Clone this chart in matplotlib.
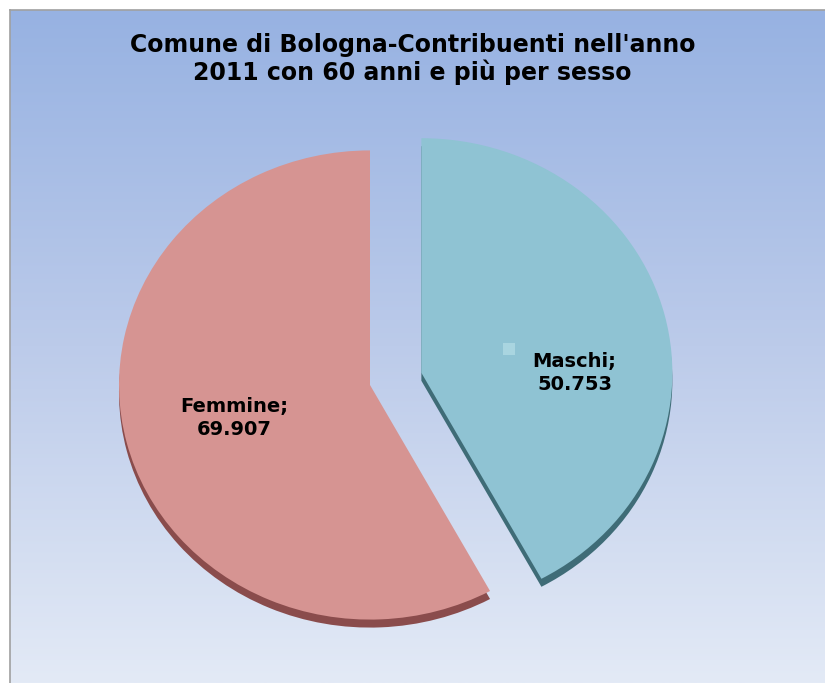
import matplotlib
matplotlib.use('Agg')

import matplotlib.pyplot as plt
import numpy as np
from matplotlib.colors import LinearSegmentedColormap

labels = ['Maschi', 'Femmine']
values = [50753, 69907]
value_text = ['50.753', '69.907']
colors = ['#8fc3d3', '#d69492']
shadow_colors = ['#3f6c77', '#8a4c4c']
title = "Comune di Bologna-Contribuenti nell'anno\n2011 con 60 anni e più per sesso"

W, H = 825, 683
fig = plt.figure(figsize=(W / 100, H / 100), dpi=100)
fig.patch.set_facecolor('white')

# gradient background with thin grey frame
bg = fig.add_axes([10 / W, 0, (W - 10) / W, (H - 10) / H])
grad = np.linspace(0, 1, 256).reshape(-1, 1)
cmap = LinearSegmentedColormap.from_list('bg', ['#97b2e2', '#bccbea', '#e3eaf6'])
bg.imshow(grad, aspect='auto', cmap=cmap, extent=[0, 1, 0, 1], origin='upper')
bg.set_xticks([])
bg.set_yticks([])
for side in ['right', 'bottom']:
    bg.spines[side].set_visible(False)
for side in ['left', 'top']:
    bg.spines[side].set_color('#a0a0a0')
    bg.spines[side].set_linewidth(1.2)

# pie, slightly flattened vertically
ax = fig.add_axes([0, 0, 1, 1])
ax.set_facecolor('none')
sy = 1.07
r = 251
cx, cy = 370, (H - 385) * sy
explode = [53, 0]

# dark copy shifted down gives the 3d edge
ax.pie(values, radius=r, center=(cx, cy - 8 * sy), explode=explode,
       startangle=90, counterclock=False, colors=shadow_colors,
       wedgeprops=dict(linewidth=0))
wedges, _ = ax.pie(values, radius=r, center=(cx, cy), explode=explode,
                   startangle=90, counterclock=False, colors=colors,
                   wedgeprops=dict(linewidth=0))

ax.set_xlim(0, W)
ax.set_ylim(0, H * sy)
ax.set_aspect('auto')
ax.axis('off')

label_pos = [(0.61, 0.0), (-0.54, -0.14)]
for w, lab, txt, (fx, fy) in zip(wedges, labels, value_text, label_pos):
    x0, y0 = w.center
    ax.text(x0 + fx * r, y0 + fy * r, lab + ';\n' + txt, ha='center', va='center',
            fontsize=14, fontweight='bold', color='black', linespacing=1.25)

# small legend key next to Maschi label
mx, my = wedges[0].center
ax.plot([mx + 0.35 * r], [my + 0.10 * r], marker='s', markersize=9,
        color='#a9d5e0', markeredgewidth=0)

fig.text(0.5, 1 - 59 / H, title, ha='center', va='center', fontsize=17,
         fontweight='bold', linespacing=1.15)

plt.savefig('out.png', dpi=100)
